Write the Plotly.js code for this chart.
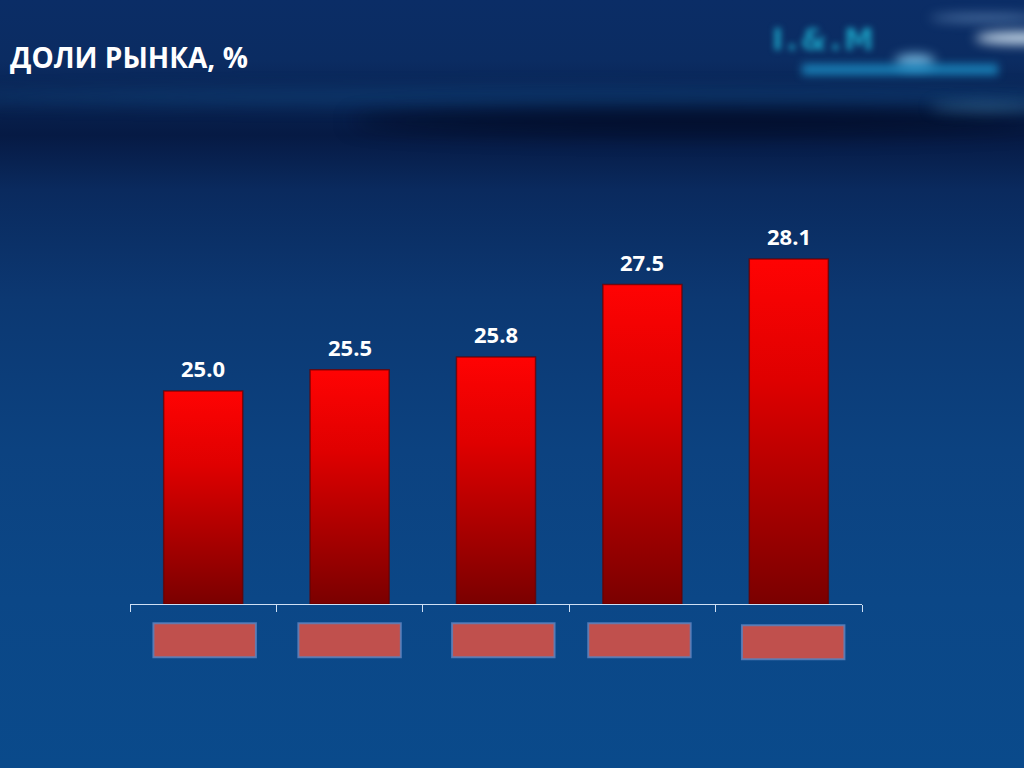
<!DOCTYPE html>
<html>
<head>
<meta charset="utf-8">
<script src="https://cdn.plot.ly/plotly-3.0.1.min.js"></script>
<style>
  html, body { margin:0; padding:0; width:1024px; height:768px; overflow:hidden; }
  body {
    position: relative;
    background:
      linear-gradient(180deg, #0b2d66 0px, #0b2c62 60px, #08214f 105px, #061a44 135px, #0a2a5e 190px, #0c3872 300px, #0c4280 450px, #0b4787 600px, #0a4a8b 768px);
  }
  #streak1 { position:absolute; left:-100px; top:88px; width:1300px; height:18px; border-radius:50%;
    background: rgba(20,90,150,0.35); filter: blur(8px); }
  #streak2 { position:absolute; left:350px; top:108px; width:700px; height:26px; border-radius:50%;
    background: rgba(0,5,25,0.6); filter: blur(10px); }
  #glow1 { position:absolute; left:975px; top:32px; width:90px; height:12px; border-radius:50%;
    background: rgba(230,245,255,0.9); filter: blur(6px); }
  #glow1b { position:absolute; left:930px; top:14px; width:110px; height:8px; border-radius:50%;
    background: rgba(160,200,240,0.45); filter: blur(6px); }
  #glow2 { position:absolute; left:895px; top:54px; width:40px; height:14px; border-radius:50%;
    background: rgba(150,220,255,0.75); filter: blur(6px); }
  #glow3 { position:absolute; left:930px; top:102px; width:110px; height:10px; border-radius:50%;
    background: rgba(80,150,190,0.45); filter: blur(7px); }
  #logo1 { position:absolute; left:772px; top:22px; font: bold 30px "DejaVu Sans", sans-serif; color:#1a9cc0;
    filter: blur(3px); letter-spacing:3px; }
  #logo2 { position:absolute; left:802px; top:64px; width:196px; height:11px; background: rgba(30,160,215,0.7);
    filter: blur(4px); }
  #chart { position:absolute; left:0; top:0; width:1024px; height:768px; }
  #gradsvg { position:absolute; left:-10px; top:-10px; }
  #chart .barlayer .point path { fill: url(#redV) !important; }
</style>
</head>
<body>
<svg id="gradsvg" width="2" height="2">
  <defs>
    <linearGradient id="redV" x1="0" y1="0" x2="0" y2="1">
      <stop offset="0" stop-color="#ff0303"/>
      <stop offset="0.35" stop-color="#df0000"/>
      <stop offset="1" stop-color="#7a0000"/>
    </linearGradient>
  </defs>
</svg>
<div id="streak1"></div>
<div id="streak2"></div>
<div id="glow1b"></div>
<div id="glow1"></div>
<div id="glow2"></div>
<div id="glow3"></div>
<div id="logo1">I.&amp;.M</div>
<div id="logo2"></div>
<div id="chart"></div>
<script>
const categories = ["Категория A", "Категория B", "Категория C", "Категория D", "Категория E"];
const shares = [25.0, 25.5, 25.8, 27.5, 28.1];
const valueLabels = ["25.0", "25.5", "25.8", "27.5", "28.1"];
const chartTitle = "ДОЛИ РЫНКА, %";
const axisMin = 20;

// red boxes covering category labels (offset from category centre, in category units; vertical shift in px)
const boxOffsets = [0.01, 0.0, 0.05, -0.02, 0.03];
const boxShiftPx = [0, 0, 0, 0, 2];

const shapes = categories.map((c, i) => ({
  type: 'rect', xref: 'x', yref: 'paper',
  x0: i - 0.35 + boxOffsets[i], x1: i + 0.35 + boxOffsets[i],
  y0: -0.125 - boxShiftPx[i] / 426, y1: -0.045 - boxShiftPx[i] / 426,
  fillcolor: '#c0504d', line: {color: 'rgba(90,130,190,0.85)', width: 2}
}));

const annotations = categories.map((c, i) => ({
  x: c, y: shares[i], xref: 'x', yref: 'y',
  text: '<b>' + valueLabels[i] + '</b>',
  showarrow: false, yanchor: 'bottom', yshift: 6,
  font: {family: '"Open Sans", sans-serif', size: 22, color: '#ffffff'}
}));

// bars start at the axis minimum so the gradient spans the visible bar
const trace = {
  type: 'bar',
  x: categories,
  y: shares.map(v => v - axisMin),
  base: axisMin,
  marker: {color: '#c00000', line: {color: 'rgba(100,0,0,0.7)', width: 1.5}},
  hoverinfo: 'none'
};

const layout = {
  width: 1024, height: 768,
  paper_bgcolor: 'rgba(0,0,0,0)',
  plot_bgcolor: 'rgba(0,0,0,0)',
  margin: {l: 130, r: 162, t: 178, b: 164},
  bargap: 0.46,
  showlegend: false,
  title: {
    text: '<b>' + chartTitle + '</b>',
    x: 10 / 1024, xanchor: 'left', xref: 'container',
    y: 1 - 58 / 768, yanchor: 'middle', yref: 'container',
    font: {family: '"Open Sans", sans-serif', size: 28, color: '#ffffff'}
  },
  xaxis: {
    type: 'category',
    showticklabels: false,
    showline: true, linecolor: '#cfe0f5', linewidth: 1,
    ticks: 'outside', tickson: 'boundaries', ticklen: 7, tickcolor: '#cfe0f5', tickwidth: 1,
    showgrid: false, zeroline: false,
    fixedrange: true
  },
  yaxis: {
    range: [axisMin, 30],
    visible: false,
    showgrid: false, zeroline: false,
    fixedrange: true
  },
  shapes: shapes,
  annotations: annotations
};

Plotly.newPlot('chart', [trace], layout, {displayModeBar: false, staticPlot: true});
</script>
</body>
</html>
